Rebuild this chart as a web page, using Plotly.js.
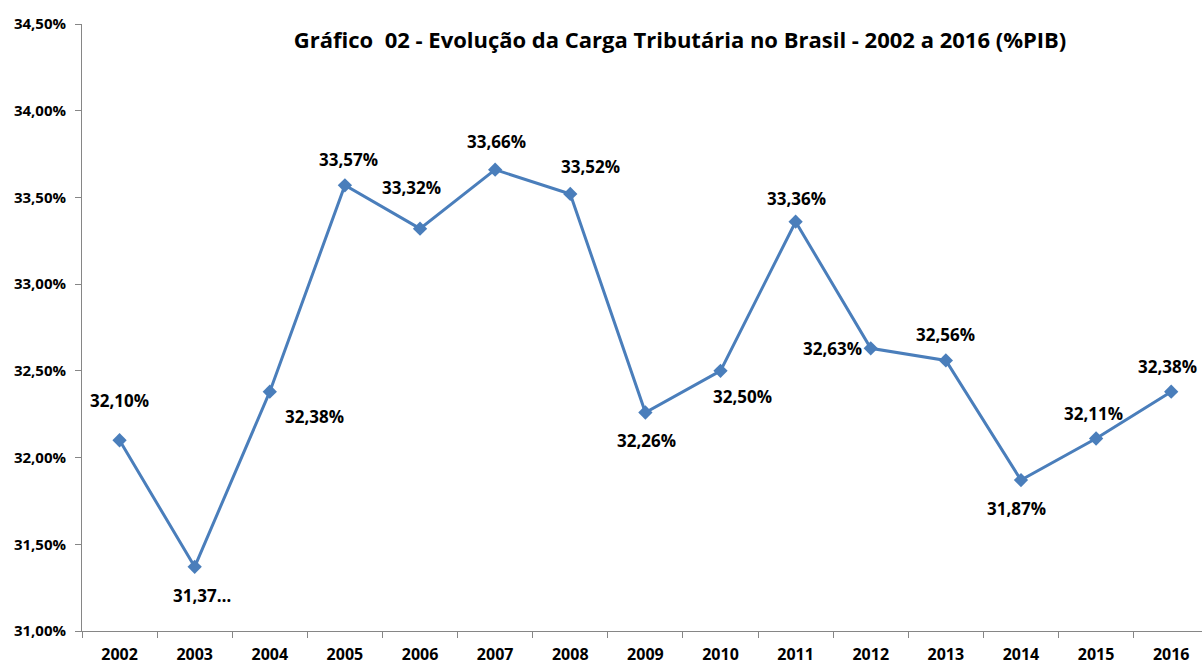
<!DOCTYPE html>
<html>
<head>
<meta charset="utf-8">
<script src="https://cdn.plot.ly/plotly-3.0.1.min.js"></script>
<style>html,body{margin:0;padding:0;background:#fff;}#chart{width:1202px;height:664px;}</style>
</head>
<body>
<div id="chart"></div>
<script>
const years = ['2002','2003','2004','2005','2006','2007','2008','2009','2010','2011','2012','2013','2014','2015','2016'];
const carga = [32.10, 31.37, 32.38, 33.57, 33.32, 33.66, 33.52, 32.26, 32.50, 33.36, 32.63, 32.56, 31.87, 32.11, 32.38];
const labels = ['32,10%','31,37…','32,38%','33,57%','33,32%','33,66%','33,52%','32,26%','32,50%','33,36%','32,63%','32,56%','31,87%','32,11%','32,38%'];
// label offsets in pixels (xshift, yshift)
const labelShiftX = [0, 7, 45, 4, -9, 1, 20, 1, 22, 1, -38, 0, -4, -3, -4];
const labelShiftY = [40, -29, -25, 26, 41, 28, 27, -28, -26, 23, 0, 26, -28, 25, 25];

const font = 'Open Sans, Noto Sans, sans-serif';
const axisColor = '#868686';

const annotations = years.map((y, i) => ({
  x: i, y: carga[i], xref: 'x', yref: 'y',
  text: '<b>' + labels[i] + '</b>', showarrow: false,
  xshift: labelShiftX[i], yshift: labelShiftY[i],
  font: {family: font, size: 17, color: '#000'}
}));

const trace = {
  x: years, y: carga, type: 'scatter', mode: 'lines+markers',
  line: {color: '#4a7ebb', width: 3},
  marker: {symbol: 'diamond', size: 11, color: '#4a7ebb'},
  hoverinfo: 'skip'
};

const layout = {
  width: 1202, height: 664,
  margin: {l: 82, r: 0, t: 24, b: 33, pad: 0},
  paper_bgcolor: '#fff', plot_bgcolor: '#fff',
  showlegend: false,
  separators: ',.',
  title: {
    text: 'Gráfico  02 - Evolução da Carga Tributária no Brasil - 2002 a 2016 (%PIB)',
    font: {family: font, size: 22, color: '#000', weight: 'bold'},
    xref: 'paper', x: 0.534, xanchor: 'center',
    yref: 'container', y: 1 - 40/664, yanchor: 'middle'
  },
  xaxis: {
    type: 'category', range: [-0.5, 14.41],
    showgrid: false, zeroline: false,
    showline: true, linecolor: axisColor, linewidth: 1,
    ticks: 'outside', tickson: 'boundaries', ticklen: 6, tickcolor: axisColor,
    tickfont: {family: font, size: 16, color: '#000', weight: 'bold'},
    ticklabelstandoff: 9
  },
  yaxis: {
    range: [31, 34.5], dtick: 0.5, tick0: 31,
    tickformat: '.2f', ticksuffix: '%',
    showgrid: false, zeroline: false,
    showline: true, linecolor: axisColor, linewidth: 1,
    ticks: 'outside', ticklen: 6, tickcolor: axisColor,
    tickfont: {family: font, size: 15, color: '#000', weight: 'bold'},
    ticklabelstandoff: 6
  },
  annotations: annotations
};

Plotly.newPlot('chart', [trace], layout, {displayModeBar: false, staticPlot: true});
</script>
</body>
</html>
